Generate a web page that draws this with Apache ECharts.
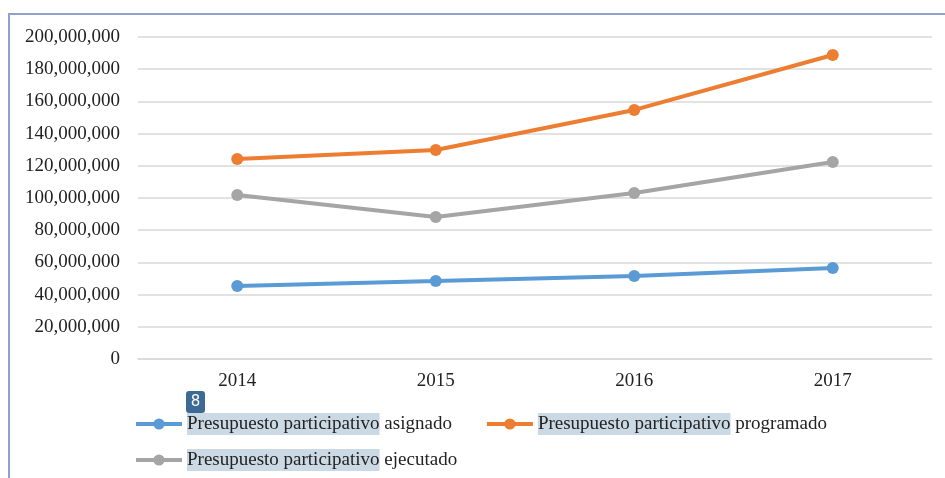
<!DOCTYPE html>
<html>
<head>
<meta charset="utf-8">
<script src="https://cdn.jsdelivr.net/npm/echarts@6/dist/echarts.min.js"></script>
<style>
  html, body { margin: 0; padding: 0; background: #fff; }
  #chart { width: 945px; height: 478px; }
</style>
</head>
<body>
<div id="chart"></div>
<script>
const years = ['2014', '2015', '2016', '2017'];
const asignado = [45300000, 48400000, 51600000, 56500000];
const programado = [124200000, 129800000, 154700000, 188800000];
const ejecutado = [101900000, 88200000, 103100000, 122400000];
const names = [
  'Presupuesto participativo asignado',
  'Presupuesto participativo programado',
  'Presupuesto participativo ejecutado'
];
const colors = ['#5B9BD5', '#ED7D31', '#A5A5A5'];

const font = '"Liberation Serif", "DejaVu Serif", serif';

const legendText = {
  fontFamily: font,
  fontSize: 19,
  color: '#222',
  rich: {
    hl: { fontFamily: font, fontSize: 19, color: '#222', backgroundColor: '#CBD9E4', padding: [2, 0, 1, 0] },
    n: { fontFamily: font, fontSize: 19, color: '#222' }
  }
};
const fmt = (name) => '{hl|Presupuesto participativo} {n|' + name.replace('Presupuesto participativo ', '') + '}';

const chart = echarts.init(document.getElementById('chart'));

chart.setOption({
  animation: false,
  backgroundColor: '#fff',
  color: colors,
  grid: { left: 138, right: 13, top: 37, height: 322 },
  legend: [
    {
      data: [names[0], names[1]],
      left: 129, top: 408,
      itemWidth: 46, itemHeight: 14, itemGap: 33,
      lineStyle: { width: 4 },
      formatter: fmt,
      textStyle: legendText
    },
    {
      data: [names[2]],
      left: 129, top: 444,
      itemWidth: 46, itemHeight: 14,
      lineStyle: { width: 4 },
      formatter: fmt,
      textStyle: legendText
    }
  ],
  xAxis: {
    type: 'category',
    data: years,
    axisLine: { lineStyle: { color: '#D9D9D9', width: 1.5 } },
    axisTick: { show: false },
    axisLabel: { fontFamily: font, fontSize: 19, color: '#222', margin: 13 }
  },
  yAxis: {
    type: 'value',
    min: 0, max: 200000000, interval: 20000000,
    axisLine: { show: false },
    axisTick: { show: false },
    splitLine: { lineStyle: { color: '#D9D9D9', width: 1.5 } },
    axisLabel: {
      fontFamily: font, fontSize: 19, color: '#222', margin: 18,
      formatter: (v) => v.toLocaleString('en-US')
    }
  },
  series: [
    { name: names[0], type: 'line', data: asignado, symbol: 'circle', symbolSize: 12, lineStyle: { width: 4 } },
    { name: names[1], type: 'line', data: programado, symbol: 'circle', symbolSize: 12, lineStyle: { width: 4 } },
    { name: names[2], type: 'line', data: ejecutado, symbol: 'circle', symbolSize: 12, lineStyle: { width: 4 } }
  ],
  graphic: [
    {
      type: 'rect',
      shape: { x: 9, y: 14, width: 960, height: 500 },
      style: { fill: 'none', stroke: '#8FA2C8', lineWidth: 2 },
      silent: true
    },
    {
      type: 'rect',
      shape: { x: 186, y: 391, width: 19, height: 22, r: 3 },
      style: { fill: '#3C6A94' }
    },
    {
      type: 'text',
      x: 195.5, y: 402.5,
      style: { text: '8', fill: '#fff', font: '15px "DejaVu Sans", sans-serif', align: 'center', verticalAlign: 'middle' }
    }
  ]
});
</script>
</body>
</html>
